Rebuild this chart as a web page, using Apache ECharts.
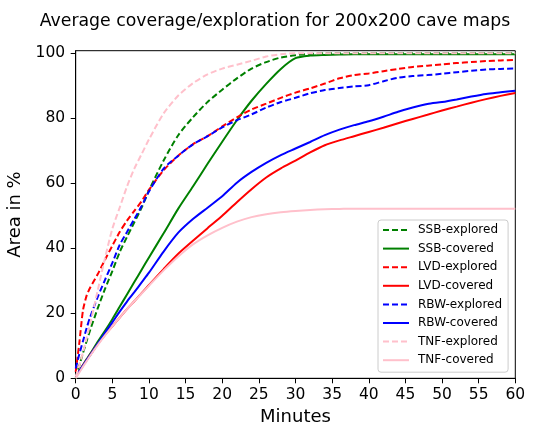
<!DOCTYPE html>
<html>
<head>
<meta charset="utf-8">
<script src="https://cdn.jsdelivr.net/npm/echarts@6/dist/echarts.min.js"></script>
<style>
html,body{margin:0;padding:0;background:#fff;}
#chart{width:550px;height:425px;}
</style>
</head>
<body>
<div id="chart"></div>
<script>
const titleText = "Average coverage/exploration for 200x200 cave maps";
const xName = "Minutes";
const yName = "Area in %";
const yTicks = [0, 20, 40, 60, 80, 100];

const minutes = [0,0.5,1,1.5,2,3,4,5,6,7,8,9,10,12,14,16,18,20,22,24,26,28,30,32,34,36,38,40,42,44,46,48,50,52,54,56,58,60];

const ssbExplored = [0,4,7.8,11.5,15,21.5,27.5,33,38.8,43.5,48,52.5,57.8,67,74.8,80.3,85,88.8,92.3,95.3,97.3,98.7,99.4,99.8,100,100,100,100,100,100,100,100,100,100,100,100,100,100];
const ssbCovered = [0.5,2.3,4.1,5.9,7.6,11.2,14.6,18.2,22,25.8,29.6,33.4,37.2,44.6,52.2,59,66,72.8,79.4,85.4,90.6,95.2,98.5,99.3,99.5,99.6,99.7,99.7,99.7,99.7,99.7,99.7,99.7,99.7,99.7,99.7,99.7,99.7];
const lvdExplored = [2,11,21,25.5,28,32,36.5,40.8,45,48.5,51.5,54.5,58,64,68.5,72,74.5,77.5,80.3,82.7,84.5,86.3,87.9,89.2,90.7,92.3,93.3,93.8,94.5,95.2,95.8,96.2,96.6,97,97.3,97.6,97.8,98];
const lvdCovered = [0.5,2.2,4,5.7,7.3,10.5,13.4,16,18.7,21.3,23.7,26.2,28.7,33.6,38.3,42.3,46.2,50,54.2,58.2,61.8,64.6,67,69.5,71.7,73.2,74.5,75.8,77.1,78.5,79.8,81.1,82.4,83.6,84.8,85.9,86.9,87.8];
const rbwExplored = [3,7.5,11.5,15.5,19,25,30.3,35.5,41,45,49,53,57.5,64.5,68.5,72,74.5,77.2,79.4,81.2,83.3,85,86.3,87.7,88.7,89.3,89.8,90.2,91.4,92.5,93,93.3,93.7,94.2,94.6,95,95.2,95.3];
const rbwCovered = [0.5,2.2,3.9,5.6,7.2,10.6,14,17.2,20.5,23.6,26.5,29.5,32.5,39,44.8,49,52.5,56,60.2,63.5,66.3,68.7,70.7,72.7,74.8,76.5,77.9,79.1,80.5,82,83.3,84.4,85,85.8,86.7,87.5,88,88.5];
const tnfExplored = [0.5,4,8,12.5,17,27,37,46,52.5,59,64.5,69,73.5,81.5,87,90.8,93.5,95.3,96.5,97.7,99,99.7,100,100,100,100,100,100,100,100,100,100,100,100,100,100,100,100];
const tnfCovered = [0,1.8,3.6,5.3,7,10.2,13.2,16,18.7,21.3,23.7,26.1,28.5,33.2,37.5,41.2,44,46.3,48.2,49.6,50.5,51.1,51.5,51.8,52,52.1,52.2,52.2,52.2,52.2,52.2,52.2,52.2,52.2,52.2,52.2,52.2,52.2];

const seriesDefs = [
  {name: "SSB-explored", values: ssbExplored, color: "#008000", dashed: true},
  {name: "SSB-covered", values: ssbCovered, color: "#008000", dashed: false},
  {name: "LVD-explored", values: lvdExplored, color: "#ff0000", dashed: true},
  {name: "LVD-covered", values: lvdCovered, color: "#ff0000", dashed: false},
  {name: "RBW-explored", values: rbwExplored, color: "#0000ff", dashed: true},
  {name: "RBW-covered", values: rbwCovered, color: "#0000ff", dashed: false},
  {name: "TNF-explored", values: tnfExplored, color: "#ffc0cb", dashed: true},
  {name: "TNF-covered", values: tnfCovered, color: "#ffc0cb", dashed: false}
];

const FONT = "DejaVu Sans";
const chart = echarts.init(document.getElementById('chart'), null, {renderer: 'canvas'});

chart.setOption({
  animation: false,
  backgroundColor: '#ffffff',
  title: {
    text: titleText,
    left: 'center',
    top: 8,
    textStyle: {fontFamily: FONT, fontSize: 17.3, fontWeight: 'normal', color: '#000'}
  },
  grid: {
    left: 75.7, right: 34.7, top: 50.7, bottom: 46.7,
    outerBoundsMode: 'none', containLabel: false,
    show: true, borderColor: '#000', borderWidth: 1, backgroundColor: 'transparent'
  },
  legend: {
    orient: 'vertical',
    left: 378, top: 220,
    padding: [4, 6, 6, 4],
    itemWidth: 26, itemHeight: 14, itemGap: 6.6,
    backgroundColor: 'rgba(255,255,255,0.8)',
    borderColor: '#cccccc', borderWidth: 1, borderRadius: 3,
    itemStyle: {color: 'rgba(0,0,0,0)', borderColor: 'rgba(0,0,0,0)', borderWidth: 0},
    textStyle: {fontFamily: FONT, fontSize: 12, color: '#000', padding: [0,0,0,4]},
    data: seriesDefs.map(s => s.name)
  },
  xAxis: {
    type: 'value', min: 0, max: 60, interval: 5,
    name: xName, nameLocation: 'middle', nameGap: 28,
    nameTextStyle: {fontFamily: FONT, fontSize: 18, color: '#000'},
    axisLine: {show: true, onZero: false, lineStyle: {color: '#000', width: 1}},
    axisTick: {show: true, inside: false, length: 5, lineStyle: {color: '#000', width: 1}},
    axisLabel: {fontFamily: FONT, fontSize: 15.5, color: '#000', margin: 9},
    splitLine: {show: false}
  },
  yAxis: {
    type: 'value', min: 0, max: 100.8,
    name: yName, nameLocation: 'middle', nameGap: 47,
    nameTextStyle: {fontFamily: FONT, fontSize: 18, color: '#000'},
    axisLine: {show: true, onZero: false, lineStyle: {color: '#000', width: 1}},
    axisTick: {show: true, inside: false, length: 5, customValues: yTicks, lineStyle: {color: '#000', width: 1}},
    axisLabel: {fontFamily: FONT, fontSize: 15.5, color: '#000', margin: 10.5, customValues: yTicks},
    splitLine: {show: false}
  },
  series: seriesDefs.map(s => ({
    name: s.name,
    type: 'line',
    data: minutes.map((m, i) => [m, s.values[i]]),
    showSymbol: false,
    symbol: 'none',
    smooth: 0.25,
    color: s.color,
    lineStyle: {color: s.color, width: 2, type: s.dashed ? [6, 3] : 'solid'},
    emphasis: {disabled: true}
  }))
});
</script>
</body>
</html>
